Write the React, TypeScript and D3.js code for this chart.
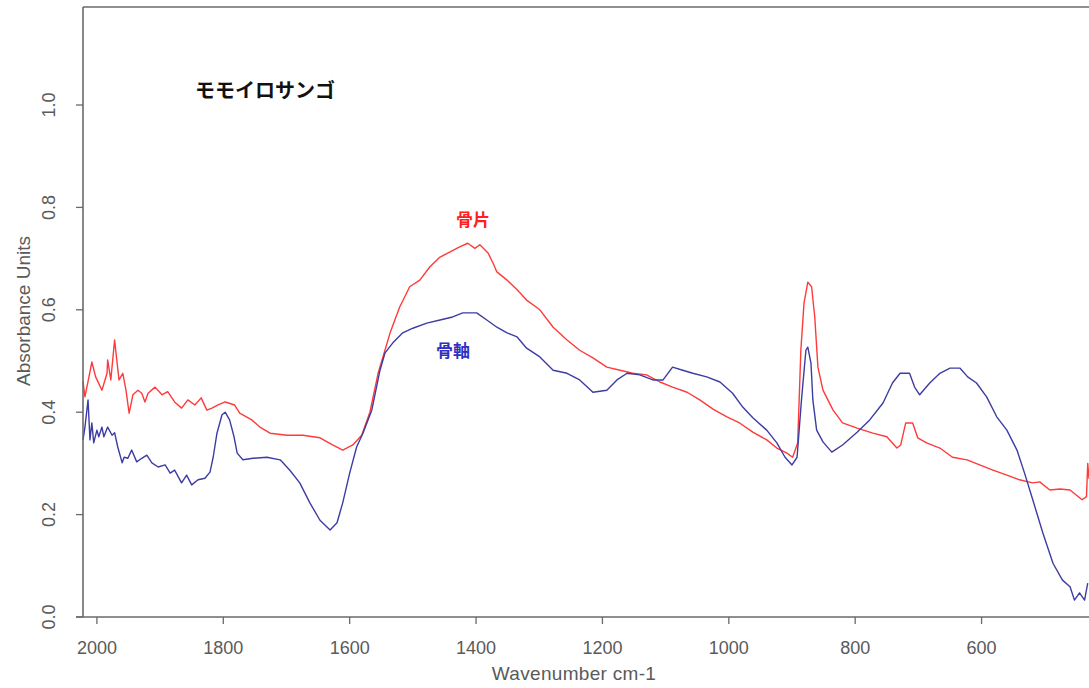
import React from 'react';
import * as d3 from 'd3';

// 骨片 (red) — [wavenumber, absorbance]
const fragment: [number, number][] = [
  [2022, 0.46], [2019, 0.43], [2014, 0.46], [2008, 0.498], [2002, 0.469], [1992, 0.443],
  [1984, 0.476], [1983, 0.502], [1978, 0.463], [1972, 0.541], [1968, 0.496], [1965, 0.463],
  [1959, 0.476], [1954, 0.443], [1949, 0.398], [1943, 0.434], [1935, 0.443], [1929, 0.437],
  [1924, 0.42], [1919, 0.437], [1908, 0.449], [1897, 0.434], [1888, 0.44], [1877, 0.42],
  [1866, 0.408], [1856, 0.424], [1845, 0.414], [1835, 0.428], [1826, 0.404], [1818, 0.408],
  [1809, 0.414], [1797, 0.42], [1782, 0.414], [1774, 0.398], [1755, 0.385], [1742, 0.371],
  [1726, 0.359], [1699, 0.355], [1674, 0.355], [1647, 0.35], [1627, 0.336], [1611, 0.326],
  [1595, 0.336], [1581, 0.355], [1568, 0.4], [1555, 0.476], [1536, 0.555], [1521, 0.605],
  [1505, 0.645], [1489, 0.658], [1473, 0.684], [1457, 0.703], [1441, 0.713], [1426, 0.723],
  [1413, 0.73], [1402, 0.72], [1394, 0.727], [1381, 0.711], [1373, 0.691], [1367, 0.674],
  [1351, 0.658], [1335, 0.639], [1320, 0.619], [1299, 0.6], [1278, 0.566], [1256, 0.541],
  [1236, 0.521], [1215, 0.506], [1193, 0.488], [1172, 0.482], [1152, 0.476], [1130, 0.473],
  [1109, 0.459], [1089, 0.449], [1066, 0.439], [1046, 0.424], [1025, 0.406], [1003, 0.391],
  [983, 0.379], [962, 0.361], [940, 0.346], [924, 0.33], [908, 0.32], [899, 0.312],
  [891, 0.34], [886, 0.521], [881, 0.613], [875, 0.654], [869, 0.645], [864, 0.586],
  [859, 0.488], [851, 0.443], [835, 0.404], [820, 0.379], [797, 0.369], [772, 0.359],
  [750, 0.352], [734, 0.33], [728, 0.336], [720, 0.379], [709, 0.379], [701, 0.35],
  [687, 0.34], [666, 0.33], [646, 0.312], [623, 0.307], [603, 0.297], [582, 0.287],
  [560, 0.277], [540, 0.268], [519, 0.262], [508, 0.264], [492, 0.248], [476, 0.25],
  [460, 0.248], [441, 0.229], [434, 0.235], [432, 0.3], [430, 0.27],
];

// 骨軸 (blue)
const axisPart: [number, number][] = [
  [2022, 0.346], [2019, 0.37], [2014, 0.424], [2011, 0.346], [2008, 0.379], [2005, 0.34],
  [2000, 0.365], [1997, 0.352], [1992, 0.371], [1989, 0.352], [1983, 0.371], [1976, 0.355],
  [1972, 0.36], [1967, 0.332], [1960, 0.301], [1957, 0.312], [1951, 0.31], [1945, 0.326],
  [1937, 0.303], [1929, 0.31], [1921, 0.316], [1913, 0.301], [1903, 0.293], [1892, 0.297],
  [1884, 0.281], [1877, 0.287], [1866, 0.262], [1858, 0.277], [1850, 0.258], [1840, 0.268],
  [1829, 0.271], [1821, 0.283], [1816, 0.312], [1810, 0.359], [1802, 0.395], [1797, 0.4],
  [1790, 0.385], [1783, 0.352], [1778, 0.32], [1769, 0.307], [1753, 0.31], [1731, 0.312],
  [1710, 0.307], [1695, 0.287], [1679, 0.262], [1663, 0.223], [1647, 0.189], [1631, 0.17],
  [1620, 0.184], [1611, 0.223], [1600, 0.281], [1589, 0.332], [1579, 0.359], [1565, 0.404],
  [1552, 0.482], [1544, 0.516], [1532, 0.535], [1516, 0.555], [1500, 0.564], [1478, 0.574],
  [1457, 0.58], [1437, 0.586], [1421, 0.594], [1399, 0.594], [1383, 0.58], [1367, 0.566],
  [1351, 0.555], [1335, 0.547], [1320, 0.525], [1299, 0.508], [1278, 0.482], [1256, 0.476],
  [1236, 0.463], [1215, 0.439], [1193, 0.443], [1177, 0.463], [1161, 0.476], [1141, 0.473],
  [1120, 0.463], [1104, 0.463], [1089, 0.488], [1073, 0.482], [1057, 0.476], [1035, 0.469],
  [1014, 0.459], [994, 0.437], [978, 0.41], [962, 0.389], [940, 0.365], [924, 0.34],
  [911, 0.312], [900, 0.297], [892, 0.312], [885, 0.424], [878, 0.521], [875, 0.527],
  [870, 0.496], [867, 0.424], [861, 0.365], [851, 0.342], [837, 0.322], [820, 0.336],
  [797, 0.361], [777, 0.385], [756, 0.418], [741, 0.457], [729, 0.476], [714, 0.476],
  [706, 0.449], [698, 0.434], [682, 0.457], [666, 0.476], [650, 0.486], [634, 0.486],
  [622, 0.469], [608, 0.457], [592, 0.43], [576, 0.391], [560, 0.365], [544, 0.326],
  [532, 0.281], [519, 0.229], [503, 0.164], [487, 0.105], [472, 0.072], [460, 0.059],
  [453, 0.033], [445, 0.047], [437, 0.033], [432, 0.066],
];

const xTicks = [2000, 1800, 1600, 1400, 1200, 1000, 800, 600];
const yTicks = [0, 0.2, 0.4, 0.6, 0.8, 1.0];

const W = 1089;
const H = 688;

export default function App() {
  const x = d3.scaleLinear().domain([2022, 430]).range([83, 1089]);
  const y = d3.scaleLinear().domain([0, 1]).range([617, 105]);
  const line = d3.line<[number, number]>()
    .x(d => x(d[0]))
    .y(d => y(d[1]));

  const axisColor = '#6a6a6a';
  const textColor = '#5a5a5a';
  const font = 'Liberation Sans, Arial, sans-serif';
  const jp = '"Noto Sans CJK JP", sans-serif';

  return (
    <>
      <style>{'body{margin:0}'}</style>
      <svg width={W} height={H} style={{ display: 'block', background: '#fff' }}>
        <path d={line(fragment) || ''} fill="none" stroke="#ff3a3a" strokeWidth={1.4} strokeLinejoin="round" />
        <path d={line(axisPart) || ''} fill="none" stroke="#3c3ca4" strokeWidth={1.4} strokeLinejoin="round" />

        {/* box: left, top, bottom */}
        <line x1={83} x2={83} y1={7} y2={617} stroke={axisColor} strokeWidth={1.6} />
        <line x1={83} x2={W + 10} y1={7} y2={7} stroke={axisColor} strokeWidth={1.6} />
        <line x1={76} x2={W + 10} y1={617} y2={617} stroke={axisColor} strokeWidth={1.6} />

        {xTicks.map(t => (
          <g key={t} transform={`translate(${x(t)},0)`}>
            <line y1={617} y2={624} stroke={axisColor} strokeWidth={1.3} />
            <text y={654} textAnchor="middle" fontFamily={font} fontSize={18} fill={textColor}>{t}</text>
          </g>
        ))}
        {yTicks.map(t => (
          <g key={t} transform={`translate(0,${y(t)})`}>
            <line x1={76} x2={83} stroke={axisColor} strokeWidth={1.3} />
            <text transform="translate(55,0) rotate(-90)" textAnchor="middle" fontFamily={font} fontSize={18} fill={textColor}>
              {t.toFixed(1)}
            </text>
          </g>
        ))}

        <text x={574} y={680} textAnchor="middle" fontFamily={font} fontSize={19} letterSpacing={0.3} fill={textColor}>Wavenumber cm-1</text>
        <text transform={`translate(30,311) rotate(-90)`} textAnchor="middle" fontFamily={font} fontSize={19} fill={textColor}>
          Absorbance Units
        </text>

        <text x={195} y={98} fontFamily={jp} fontWeight="bold" fontSize={20} fill="#111">モモイロサンゴ</text>
        <text x={473} y={226} textAnchor="middle" fontFamily={jp} fontWeight="bold" fontSize={17} fill="#ff2020">骨片</text>
        <text x={453} y={357} textAnchor="middle" fontFamily={jp} fontWeight="bold" fontSize={17} fill="#3030c0">骨軸</text>
      </svg>
    </>
  );
}
